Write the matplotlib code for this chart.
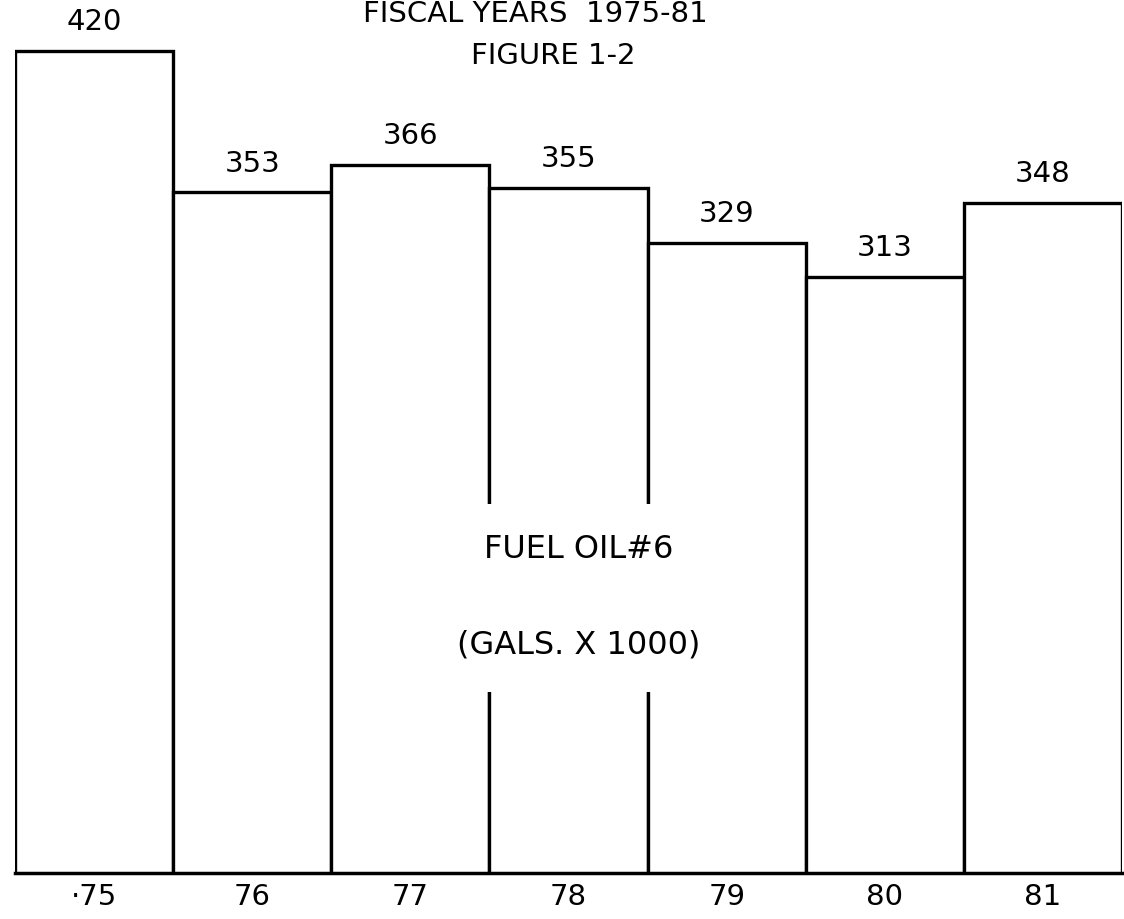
import matplotlib
matplotlib.use("Agg")
import matplotlib.pyplot as plt
from matplotlib.patches import Rectangle

# fuel oil #6 use, gallons x 1000
years = ["·75", "76", "77", "78", "79", "80", "81"]
values = [420, 353, 366, 355, 329, 313, 348]

plt.rcParams["font.family"] = ["DejaVu Sans"]

fig = plt.figure(figsize=(11.24, 9.19), dpi=100)
ax = fig.add_axes([15 / 1124, 46 / 919, 1107 / 1124, 873 / 919])

x = list(range(len(values)))
ax.bar(x, values, width=1.0, color="white", edgecolor="black", linewidth=2.4, zorder=2)

for i, v in zip(x, values):
    ax.annotate(str(v), (i, v), xytext=(0, 15), textcoords="offset points",
                ha="center", va="baseline", fontsize=21)

ax.set_xlim(-0.5, len(values) - 0.5)
ax.set_ylim(31, 444)
ax.set_xticks(x, years)
ax.tick_params(axis="x", length=0, pad=7, labelsize=21)
ax.set_yticks([])
for s in ["left", "right", "top"]:
    ax.spines[s].set_visible(False)
ax.spines["bottom"].set_linewidth(2.5)

# gap in the bar edges behind the centre caption
ax.add_patch(Rectangle((0.40, 0.207), 0.2, 0.216, transform=ax.transAxes,
                       facecolor="white", edgecolor="none", zorder=3))
ax.text(0.509, 0.370, "FUEL OIL#6", transform=ax.transAxes, ha="center", va="center",
        fontsize=23, zorder=4)
ax.text(0.509, 0.261, "(GALS. X 1000)", transform=ax.transAxes, ha="center", va="center",
        fontsize=23, zorder=4)

fig.text(535 / 1124, 1 - 14 / 919, "FISCAL YEARS  1975-81", ha="center", va="center", fontsize=21)
fig.text(553 / 1124, 1 - 56 / 919, "FIGURE 1-2", ha="center", va="center", fontsize=21)

fig.savefig("out.png", dpi=100)
